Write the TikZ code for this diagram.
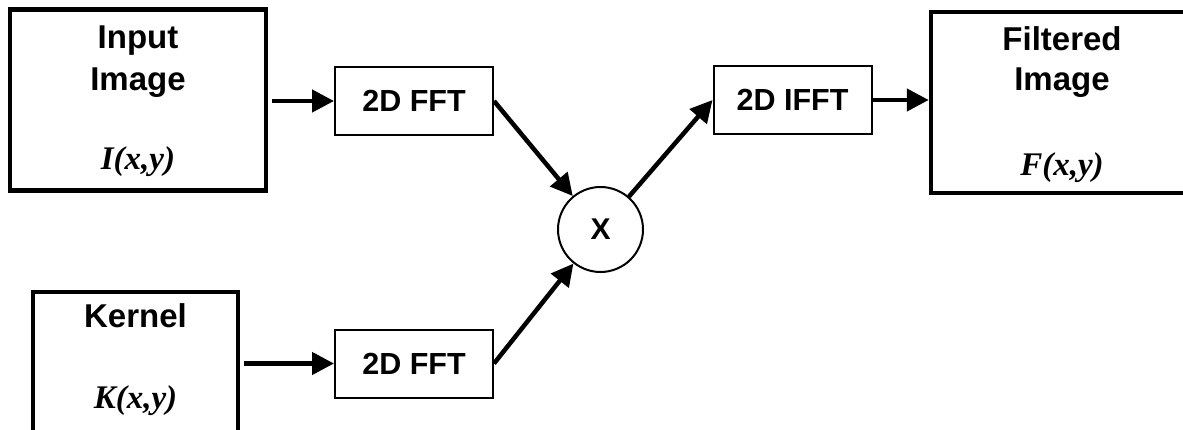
\documentclass[tikz,border=0pt]{standalone}
\usepackage{fontspec}
\setmainfont{Liberation Serif}
\newfontfamily\arialfont{Liberation Sans}
\usetikzlibrary{arrows.meta}
\begin{document}
\begin{tikzpicture}[x=1pt, y=-1pt,
    bigbox/.style={draw, line width=4.5pt, inner sep=0pt, minimum height=181pt},
    smallbox/.style={draw, line width=2pt, inner sep=0pt, minimum width=158pt, minimum height=68pt,
      font=\arialfont\bfseries\fontsize{30.5}{36}\selectfont},
    title/.style={anchor=base, inner sep=0pt, font=\arialfont\bfseries\fontsize{33}{40}\selectfont},
    func/.style={anchor=base, inner sep=0pt, font=\bfseries\itshape\fontsize{33}{40}\selectfont},
    arr/.style={line width=4.5pt, -{Triangle[length=22pt, width=22pt]}}]
  \useasboundingbox (0,0) rectangle (1183,430);
  \node[bigbox, minimum width=256pt] (input) at (138,100) {};
  \node[title] (inputa) at (138,48.5) {Input};
  \node[title] (inputb) at (138,90.5) {Image};
  \node[func] (inputf) at (138,170) {I(x,y)};
  \node[bigbox, minimum width=205pt] (kernel) at (135.5,382.5) {};
  \node[title] (kernela) at (135.5,327) {Kernel};
  \node[func] (kernelf) at (135.5,408) {K(x,y)};
  \node[bigbox, minimum width=262pt] (filt) at (1062,102.5) {};
  \node[title] (filta) at (1062,50.5) {Filtered};
  \node[title] (filtb) at (1062,90.5) {Image};
  \node[func] (filtf) at (1062,176) {F(x,y)};
  \node[smallbox] (fftA) at (414,101) {2D FFT};
  \node[smallbox] (fftB) at (414,363.5) {2D FFT};
  \node[smallbox] (ifft) at (792.5,100) {2D IFFT};
  \node[circle, draw, line width=2pt, minimum size=85pt, inner sep=0pt,
    font=\arialfont\bfseries\fontsize{30}{36}\selectfont] (mul) at (600.5,229.5) {X};
  \draw[arr, shorten <=4pt] (input.east |- fftA.west) -- (fftA.west);
  \draw[arr, shorten <=4pt] (kernel.east |- fftB.west) -- (fftB.west);
  \draw[arr] (fftA.east) -- (mul);
  \draw[arr] (fftB.east) -- (mul);
  \draw[arr] (mul) -- (ifft.west);
  \draw[arr] (ifft.east) -- (ifft.east -| filt.west);
\end{tikzpicture}
\end{document}
